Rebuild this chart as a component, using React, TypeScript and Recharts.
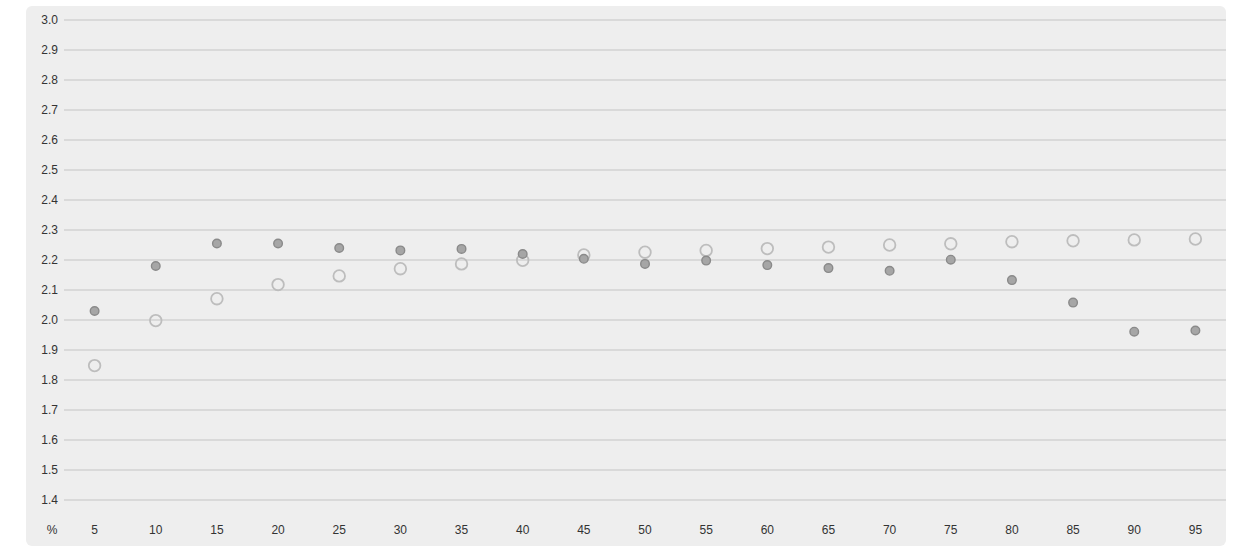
import { CartesianGrid, ComposedChart, Line, XAxis, YAxis } from "recharts";

const PERCENTILES = [5, 10, 15, 20, 25, 30, 35, 40, 45, 50, 55, 60, 65, 70, 75, 80, 85, 90, 95];

const FILLED = [
  2.03, 2.18, 2.255, 2.255, 2.24, 2.232, 2.237, 2.22, 2.204, 2.187, 2.198, 2.183, 2.173, 2.164, 2.201,
  2.133, 2.058, 1.961, 1.965,
];

const OPEN = [
  1.848, 1.998, 2.071, 2.118, 2.147, 2.171, 2.187, 2.199, 2.217, 2.226, 2.232, 2.238, 2.243, 2.25,
  2.254, 2.261, 2.264, 2.267, 2.27,
];

const Y_TICKS = [1.4, 1.5, 1.6, 1.7, 1.8, 1.9, 2.0, 2.1, 2.2, 2.3, 2.4, 2.5, 2.6, 2.7, 2.8, 2.9, 3.0];

const data = PERCENTILES.map((p, i) => ({ pct: p, filled: FILLED[i], open: OPEN[i] }));

const TEXT = { fontSize: 12, fill: "#333", fontFamily: "'Liberation Sans', Arial, sans-serif" };

function YTick(props: any) {
  return (
    <text x={32} y={props.y} dy={4} textAnchor="end" {...TEXT}>
      {props.payload.value.toFixed(1)}
    </text>
  );
}

function XTick(props: any) {
  return (
    <text x={props.x} y={528} textAnchor="middle" {...TEXT}>
      {props.payload.value}
    </text>
  );
}

function PctLabel(props: any) {
  const vb = props.viewBox;
  return (
    <text x={vb.x - 12} y={528} textAnchor="middle" {...TEXT}>
      %
    </text>
  );
}

export default function App() {
  return (
    <div
      style={{
        position: "absolute",
        left: 26,
        top: 6,
        width: 1200,
        height: 540,
        background: "#eeeeee",
        borderRadius: 6,
      }}
    >
      <ComposedChart width={1200} height={540} data={data} margin={{ top: 14, right: 0, bottom: 0, left: 0 }}>
        <CartesianGrid vertical={false} stroke="#d9d9d9" strokeWidth={2} />
        <XAxis
          dataKey="pct"
          type="category"
          height={46}
          axisLine={false}
          tickLine={false}
          interval={0}
          padding={{ left: 30.6, right: 30.6 }}
          tick={<XTick />}
          label={<PctLabel />}
        />
        <YAxis
          type="number"
          domain={[1.4, 3.0]}
          ticks={Y_TICKS}
          width={38}
          axisLine={false}
          tickLine={false}
          tick={<YTick />}
          interval={0}
        />
        <Line
          dataKey="open"
          stroke="none"
          isAnimationActive={false}
          activeDot={false}
          dot={{ r: 5.8, fill: "none", stroke: "#bdbdbd", strokeWidth: 1.8 }}
        />
        <Line
          dataKey="filled"
          stroke="none"
          isAnimationActive={false}
          activeDot={false}
          dot={{ r: 4.3, fill: "#a6a6a6", stroke: "#8a8a8a", strokeWidth: 1.4 }}
        />
      </ComposedChart>
    </div>
  );
}
